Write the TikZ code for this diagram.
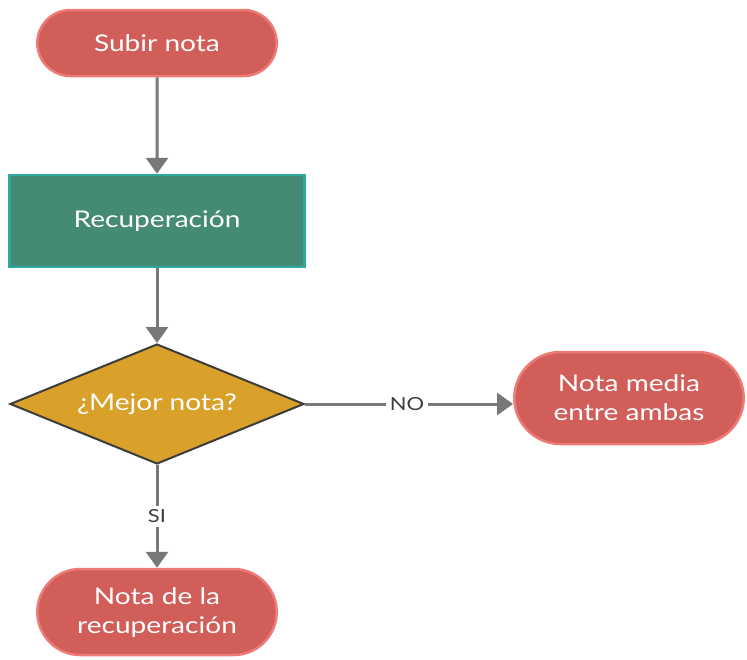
\documentclass[tikz,border=0pt]{standalone}
\usepackage{fontspec}
\setmainfont{Lato}[FakeStretch=1.22]
\usepackage{tikz}
\usetikzlibrary{arrows.meta,shapes.misc,shapes.geometric}
\definecolor{pillfill}{RGB}{210,94,90}
\definecolor{pillline}{RGB}{238,122,118}
\definecolor{boxfill}{RGB}{69,138,117}
\definecolor{boxline}{RGB}{44,170,158}
\definecolor{decfill}{RGB}{217,160,42}
\definecolor{decline}{RGB}{60,60,60}
\definecolor{edgegray}{RGB}{120,120,120}

\begin{document}
\begin{tikzpicture}[x=1pt,y=-1pt]
\tikzset{terminal/.style = {shape=rounded rectangle,draw=pillline,fill=pillfill,line width=2.5pt,text=white,font=\fontsize{23}{29}\selectfont,align=center}}
\tikzset{process/.style = {shape=rectangle,draw=boxline,fill=boxfill,line width=2.5pt,text=white,font=\fontsize{23}{29}\selectfont,minimum width=295pt,minimum height=92pt}}
\tikzset{decision/.style = {shape=diamond,aspect=2.45,draw=decline,fill=decfill,line width=2pt,text=white,font=\fontsize{23}{29}\selectfont,minimum width=294pt,minimum height=120pt,inner sep=0pt}}
\tikzset{edge/.style = {draw=edgegray,line width=3pt,-{Triangle[width=22pt,length=16pt]}}}
\tikzset{label/.style = {fill=white,text=black!75,font=\fontsize{18}{20}\selectfont,inner sep=4pt}}
\useasboundingbox (0,0) rectangle (747,659);
% vertices
\node[terminal,minimum width=246pt,minimum height=66pt] (start) at (157,43) {Subir nota};
\node[process] (recup) at (157,221) {Recuperación};
\node[decision] (better) at (157,404) {¿Mejor nota?};
\node[terminal,minimum width=236pt,minimum height=92pt] (media) at (629,398) {Nota media\\entre ambas};
\node[terminal,minimum width=246pt,minimum height=86pt] (final) at (157,612) {Nota de la\\recuperación};
%edges
\draw[edge] (start) -- (recup);
\draw[edge] (recup) -- (better);
\draw[edge] (better.east) -- (media.west |- better.east) node[label,pos=0.49] {NO};
\draw[edge] (better.south) -- (final.north) node[label,pos=0.5] {SI};
\end{tikzpicture}
\end{document}
